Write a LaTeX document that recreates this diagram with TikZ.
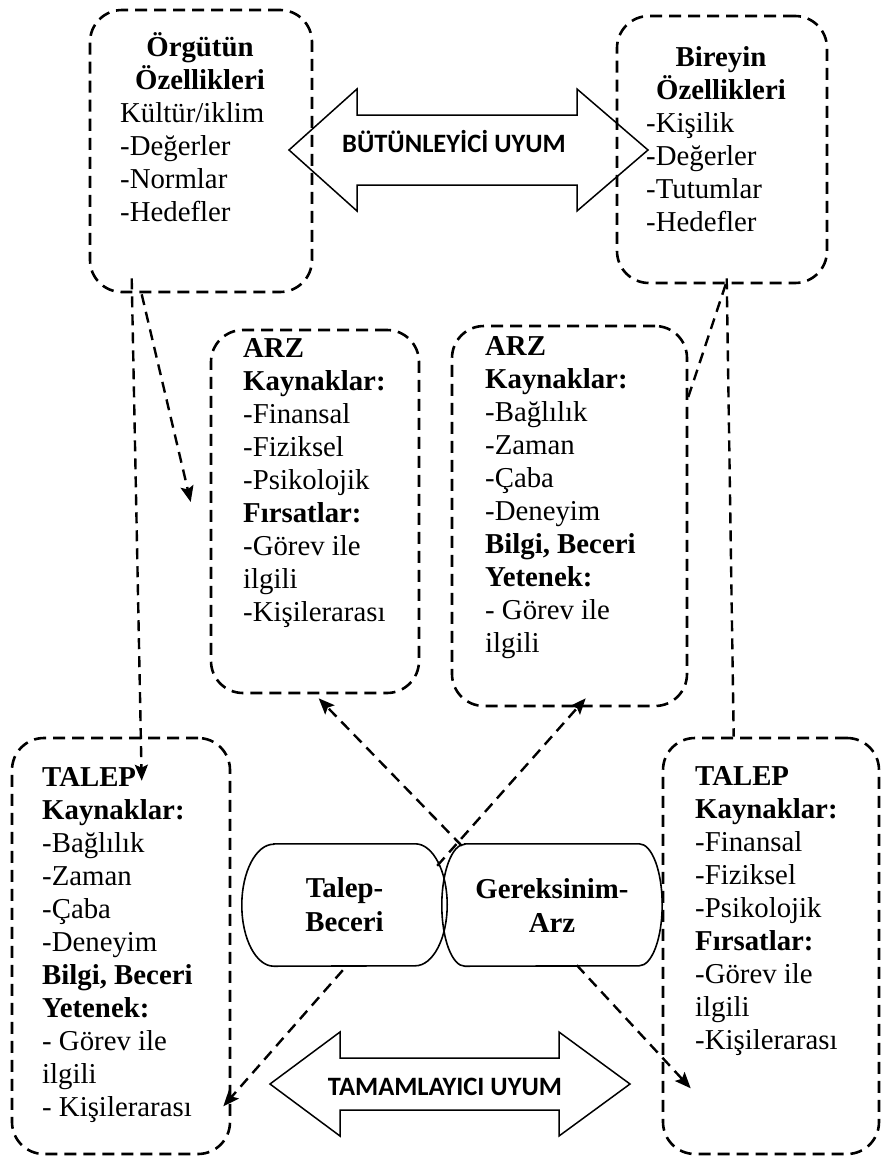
\documentclass[tikz,border=0pt]{standalone}
\usepackage{fontspec}
\setmainfont{Liberation Serif}
\newfontfamily\labelfont{Carlito}
\usetikzlibrary{arrows.meta,calc}
\begin{document}
\begin{tikzpicture}[x=1pt,y=-1pt,
  box/.style={draw, dash pattern=on 12pt off 7pt, line width=2.6pt, rounded corners=32pt, inner sep=0pt},
  txt/.style={align=left, inner sep=0pt, font=\fontsize{28.8}{33}\selectfont},
  head/.style={align=center, inner sep=0pt, font=\bfseries\fontsize{28.8}{33.3}\selectfont},
  link/.style={dash pattern=on 11pt off 7pt, line width=2.4pt},
  tip/.style={link, -{Stealth[length=16pt,width=13pt,inset=3pt]}},
  fitarrow/.style={draw, line width=1.5pt, line join=miter},
  fitlabel/.style={inner sep=0pt, font=\labelfont\bfseries\fontsize{26.5}{30}\selectfont},
  cyl/.style={inner sep=0pt, align=center, font=\bfseries\fontsize{28.8}{34}\selectfont},
  rim/.style={line width=1.6pt}
]
\useasboundingbox (0,0) rectangle (881,1162);

% dashed boxes
\node[box, minimum width=222pt, minimum height=282pt] (b1) at (201,151) {};
\node[box, minimum width=210pt, minimum height=267pt] (b2) at (722,149.5) {};
\node[box, minimum width=208pt, minimum height=363pt] (b3) at (315,511.5) {};
\node[box, minimum width=235pt, minimum height=380pt] (b4) at (569.5,516) {};
\node[box, minimum width=218pt, minimum height=416pt] (b5) at (121,946) {};
\node[box, minimum width=216pt, minimum height=416pt] (b6) at (771,946) {};

% box texts (anchored at the baseline of their last line)
\node[head, anchor=base] (h1) at (200,89.3) {Örgütün\\Özellikleri};
\node[txt, anchor=base west] (l1) at (120,221.6) {Kültür/iklim\\-Değerler\\-Normlar\\-Hedefler};
\node[head, anchor=base] (h2) at (721,99.3) {Bireyin\\Özellikleri};
\node[txt, anchor=base west] (l2) at (646,231.6) {-Kişilik\\-Değerler\\-Tutumlar\\-Hedefler};
\node[txt, anchor=base west] (l3) at (243,621) {\textbf{ARZ}\\\textbf{Kaynaklar:}\\-Finansal\\-Fiziksel\\-Psikolojik\\\textbf{Fırsatlar:}\\-Görev ile\\ilgili\\-Kişilerarası};
\node[txt, anchor=base west] (l4) at (485,652) {\textbf{ARZ}\\\textbf{Kaynaklar:}\\-Bağlılık\\-Zaman\\-Çaba\\-Deneyim\\\textbf{Bilgi, Beceri}\\\textbf{Yetenek:}\\- Görev ile\\ilgili};
\node[txt, anchor=base west] (l5) at (42,1116) {\textbf{TALEP}\\\textbf{Kaynaklar:}\\-Bağlılık\\-Zaman\\-Çaba\\-Deneyim\\\textbf{Bilgi, Beceri}\\\textbf{Yetenek:}\\- Görev ile\\ilgili\\- Kişilerarası};
\node[txt, anchor=base west] (l6) at (695,1049) {\textbf{TALEP}\\\textbf{Kaynaklar:}\\-Finansal\\-Fiziksel\\-Psikolojik\\\textbf{Fırsatlar:}\\-Görev ile\\ilgili\\-Kişilerarası};

% the two overlapping capsules
\node[cyl, minimum width=205pt, minimum height=122pt] (c1) at (344.5,905) {Talep-\\Beceri};
\node[cyl, minimum width=220pt, minimum height=122pt] (c2) at (552,905) {Gereksinim-\\Arz};
\draw[rim] ($(c1.north west)+(32,0)$) -- ($(c1.north east)+(-32,0)$)
  arc[start angle=-90, end angle=90, x radius=32, y radius=61]
  -- ($(c1.south west)+(32,0)$)
  arc[start angle=90, end angle=270, x radius=32, y radius=61] -- cycle;
\draw[rim] ($(c2.north west)+(23,0)$) -- ($(c2.north east)+(-23,0)$)
  arc[start angle=-90, end angle=90, x radius=23, y radius=61]
  -- ($(c2.south west)+(23,0)$)
  arc[start angle=90, end angle=270, x radius=23, y radius=61] -- cycle;

% dashed connectors
\draw[tip] ($(b1.south west)+(43,-15)$) -- ($(b5.north west)+(131,44)$);
\draw[tip] ($(b1.south west)+(53,1)$) -- ($(b3.west)+(-19,-9.5)$);
\draw[link] ($(b2.south west)+(111,-6)$) -- ($(b6.north west)+(72,0)$);
\draw[link] ($(b2.south west)+(110,0)$) -- ($(b4.east)+(0,-119)$);
\draw[tip] ($(c2.north west)+(20,2)$) -- ($(b3.south west)+(109,4)$);
\draw[tip] ($(c1.north east)+(-10,22)$) -- ($(b4.south west)+(135,-9)$);
\draw[tip] ($(c1.south west)+(101,4)$) -- ($(b5.south east)+(-8,-49)$);
\draw[tip] ($(c2.south west)+(135,-1)$) -- ($(b6.south west)+(29,-67)$);

% block double arrows
\draw[fitarrow] (289,150) -- (357,89) -- (357,115) -- (577,115) -- (577,89) -- (648,150)
  -- (577,211) -- (577,185) -- (357,185) -- (357,211) -- cycle;
\node[fitlabel, anchor=base] (u1) at (454,152) {BÜTÜNLEYİCİ UYUM};
\draw[fitarrow] (270,1084) -- (340,1032) -- (340,1058) -- (559,1058) -- (559,1032) -- (630,1084)
  -- (559,1136) -- (559,1110) -- (340,1110) -- (340,1136) -- cycle;
\node[fitlabel, anchor=base] (u2) at (445,1095) {TAMAMLAYICI UYUM};
\end{tikzpicture}
\end{document}
